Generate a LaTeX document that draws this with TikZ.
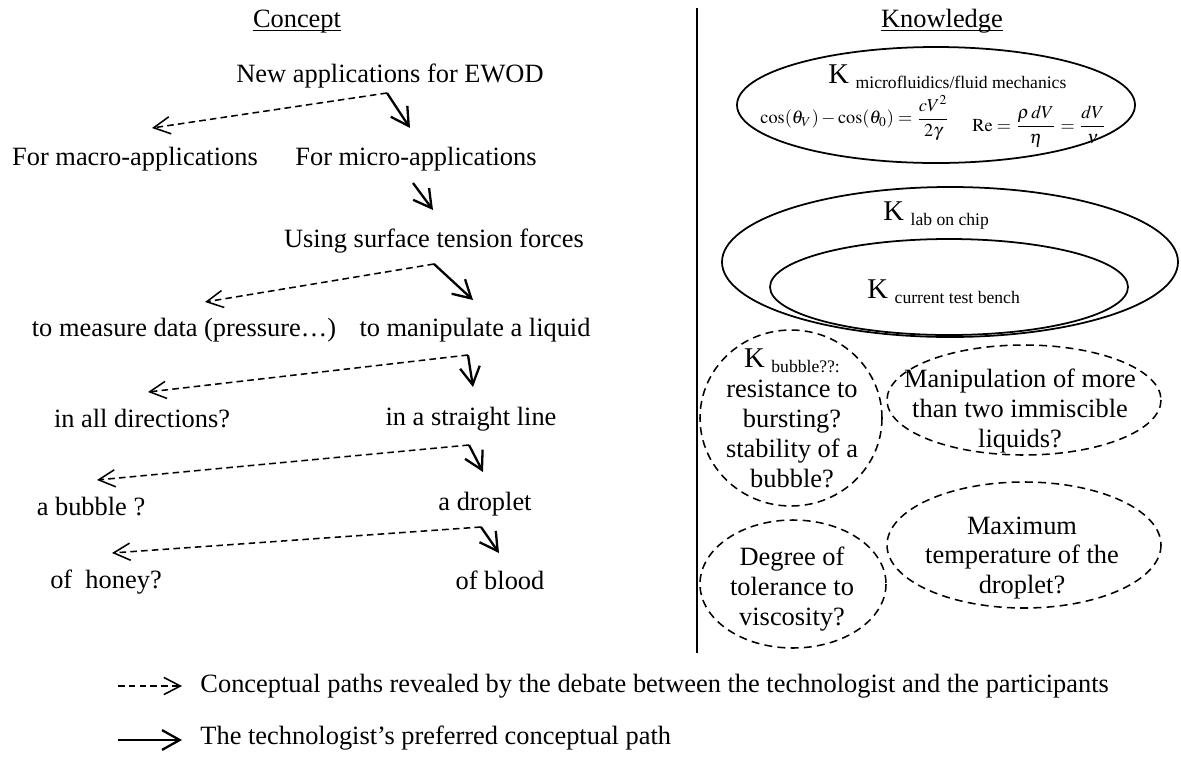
\documentclass[tikz,border=0pt]{standalone}
\usepackage{amsmath}
\usepackage{mathptmx}
\usepackage[no-math]{fontspec}
\setmainfont{Liberation Serif}
\usetikzlibrary{arrows.meta}
\tikzset{>=Straight Barb}
\tikzset{
	txt/.style={font=\fontsize{12}{13.6}\selectfont,inner sep=0pt},
	frm/.style={font=\fontsize{8.3}{10}\selectfont,inner sep=0pt,anchor=west},
	debate/.style={line width=0.7pt,dash pattern=on 3pt off 1.9pt,-{Straight Barb[length=7.5pt,width=7.8pt]}},
	preferred/.style={line width=1.05pt,-{Straight Barb[length=8pt,width=9pt]}},
	kfield/.style={line width=0.8pt},
	kopen/.style={line width=0.7pt,dash pattern=on 3.6pt off 2.4pt}
}
\newcommand{\kname}[1]{{\fontsize{13}{14}\selectfont K}\ \raisebox{-2.3pt}{\fontsize{8}{9}\selectfont #1}}

\begin{document}
\begin{tikzpicture}[x=0.4545pt,y=-0.4545pt]
	\useasboundingbox (0,0) rectangle (1181,760);
	\node[txt,anchor=base] (concept) at (297,27) {Concept};
	\node[txt,anchor=base] (knowledge) at (942,27) {Knowledge};
	\draw[line width=0.5pt] ([yshift=-1.6pt]concept.base west) -- ([yshift=-1.6pt]concept.base east);
	\draw[line width=0.5pt] ([yshift=-1.6pt]knowledge.base west) -- ([yshift=-1.6pt]knowledge.base east);
	\coordinate (top) at (697,8);
	\coordinate (bottom) at (697,653);
	\draw[line width=0.6pt] (top) -- (bottom);

	\node[txt,anchor=base] (ewod) at (390,82) {New applications for EWOD};
	\node[txt,anchor=base] (macro) at (135,165) {For macro-applications};
	\node[txt,anchor=base] (micro) at (416,165) {For micro-applications};
	\node[txt,anchor=base] (tension) at (434,247) {Using surface tension forces};
	\node[txt,anchor=base] (measure) at (184,336) {to measure data (pressure…)};
	\node[txt,anchor=base] (manip) at (475,336) {to manipulate a liquid};
	\node[txt,anchor=base] (alldir) at (142,427) {in all directions?};
	\node[txt,anchor=base] (straight) at (471,425) {in a straight line};
	\node[txt,anchor=base] (bubble) at (91,515) {a bubble ?};
	\node[txt,anchor=base] (droplet) at (485,510) {a droplet};
	\node[txt,anchor=base] (honey) at (106,588) {of\ \ honey?};
	\node[txt,anchor=base] (blood) at (500,589) {of blood};

	\coordinate (ewod-fork) at (387,93);
	\coordinate (macro-in) at (152,128);
	\coordinate (micro-in) at (410,128);
	\coordinate (micro-fork) at (413,183);
	\coordinate (tension-in) at (433,210);
	\coordinate (tension-fork) at (434,264);
	\coordinate (measure-in) at (205,302);
	\coordinate (manip-in) at (473,300);
	\coordinate (manip-fork) at (468,355);
	\coordinate (alldir-in) at (148,392);
	\coordinate (straight-in) at (473,387);
	\coordinate (straight-fork) at (469,445);
	\coordinate (bubble-in) at (97,480);
	\coordinate (droplet-in) at (483,472);
	\coordinate (droplet-fork) at (481,527);
	\coordinate (honey-in) at (112,553);
	\coordinate (blood-in) at (499,553);
	\draw[debate] (ewod-fork) -- (macro-in);
	\draw[preferred] (ewod-fork) -- (micro-in);
	\draw[preferred] (micro-fork) -- (tension-in);
	\draw[debate] (tension-fork) -- (measure-in);
	\draw[preferred] (tension-fork) -- (manip-in);
	\draw[debate] (manip-fork) -- (alldir-in);
	\draw[preferred] (manip-fork) -- (straight-in);
	\draw[debate] (straight-fork) -- (bubble-in);
	\draw[preferred] (straight-fork) -- (droplet-in);
	\draw[debate] (droplet-fork) -- (honey-in);
	\draw[preferred] (droplet-fork) -- (blood-in);

	\draw[kfield] (936,105) ellipse [x radius=199, y radius=58];
	\node[txt,anchor=base west] (kmicro) at (828,83) {\kname{microfluidics/fluid mechanics}};
	\node[frm] (young) at (760,118) {$\cos(\theta_V)-\cos(\theta_0)=\dfrac{cV^2}{2\gamma}$};
	\node[frm] (reynolds) at (972,127) {$\mathrm{Re}=\dfrac{\rho\,dV}{\eta}=\dfrac{dV}{\nu}$};
	\draw[kfield] (950,262) ellipse [x radius=228, y radius=75];
	\node[txt,anchor=base west] (klab) at (883,220) {\kname{lab on chip}};
	\draw[kfield] (949,287) ellipse [x radius=179, y radius=48];
	\node[txt,anchor=base west] (kbench) at (867,298) {\kname{current test bench}};

	\draw[kopen] (791,418) ellipse [x radius=91, y radius=88];
	\node[txt,align=center] (kbubble) at (792,418) {\kname{bubble??:}\\resistance to\\bursting?\\stability of a\\bubble?};
	\draw[kopen] (1024,400) ellipse [x radius=137, y radius=55];
	\node[txt,align=center] (immiscible) at (1020,411) {Manipulation of more\\than two immiscible\\liquids?};
	\draw[kopen] (793,584) ellipse [x radius=93, y radius=64];
	\node[txt,align=center] (viscosity) at (792,589) {Degree of\\tolerance to\\viscosity?};
	\draw[kopen] (1024,545) ellipse [x radius=137, y radius=63];
	\node[txt,align=center] (temperature) at (1022,558) {Maximum\\temperature of the\\droplet?};

	\coordinate (leg1-from) at (118,686);
	\coordinate (leg1-to) at (182,686);
	\coordinate (leg2-from) at (118,740);
	\coordinate (leg2-to) at (182,740);
	\draw[debate] (leg1-from) -- (leg1-to);
	\draw[preferred] (leg2-from) -- (leg2-to);
	\node[txt,anchor=base west] (leg1) at (200,692) {Conceptual paths revealed by the debate between the technologist and the participants};
	\node[txt,anchor=base west] (leg2) at (200,744) {The technologist’s preferred conceptual path};
\end{tikzpicture}
\end{document}
